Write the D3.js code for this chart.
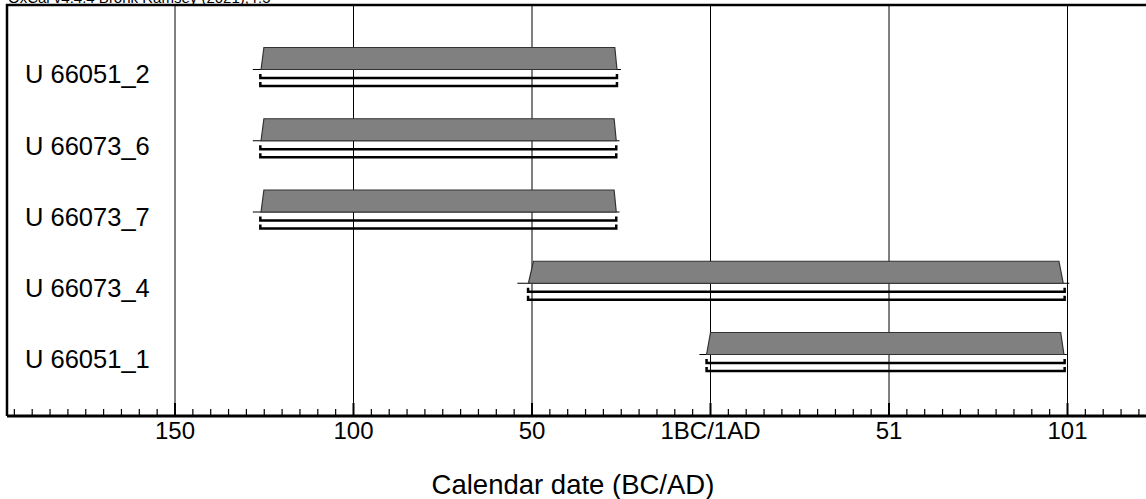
<!DOCTYPE html>
<html><head><meta charset="utf-8">
<script src="https://cdn.jsdelivr.net/npm/d3@7"></script>
<style>html,body{margin:0;padding:0;background:#fff;overflow:hidden}svg{display:block}</style>
</head><body>
<svg id="c" width="1146" height="499"></svg>
<script>
// ---- data ----
const header = "OxCal v4.4.4 Bronk Ramsey (2021); r:5";
const xTitle = "Calendar date (BC/AD)";
const samples = ["U 66051_2", "U 66073_6", "U 66073_7", "U 66073_4", "U 66051_1"];
// distribution outline, years (1BC/1AD = 0), paired with relative probability
const distProb = [0, 0, 1, 1, 0, 0];
const distYears = [
  [-128.2, -125.9, -125.1, -26.8, -26.2, -25.1],
  [-128.2, -125.9, -125.1, -27.0, -26.4, -25.5],
  [-128.2, -125.9, -125.1, -27.0, -26.4, -25.5],
  [-54.1, -51.0, -49.6, 97.6, 98.8, 100.5],
  [-3.1, -1.1, 0.0, 98.1, 99.0, 99.8]
];
const range68 = [[-126.1, -26.2], [-126.1, -26.4], [-126.1, -26.4], [-51.1, 99.2], [-1.1, 99.2]];
const range95 = [[-126.1, -26.2], [-126.1, -26.4], [-126.1, -26.4], [-51.1, 99.2], [-1.1, 99.2]];
const majorTicks = [-150, -100, -50, 0, 50, 100];
const majorLabels = ["150", "100", "50", "1BC/1AD", "51", "101"];
const minorTicks = d3.range(-195, 125, 5);

// ---- layout ----
const W = 1146, H = 499;
const frameLeft = 7, frameTop = 5, axisY = 416;
const font = "'Liberation Sans', Arial, Helvetica, sans-serif";
const svg = d3.select("#c");

const x = d3.scaleLinear().domain([-150, 100]).range([175, 1067.5]);
const rowBase = d3.scaleLinear().domain([0, 4]).range([69.5, 354.5]);
const pH = 22;

// header
svg.append("text").attr("x", 8).attr("y", 2.5).attr("font-family", font)
  .attr("font-size", 15).attr("fill", "#000").text(header);

// gridlines
svg.append("g").selectAll("line").data(majorTicks).join("line")
  .attr("x1", d => x(d)).attr("x2", d => x(d))
  .attr("y1", frameTop).attr("y2", axisY)
  .attr("stroke", "#000").attr("stroke-width", 1);

// distributions
const rows = svg.append("g").selectAll("g").data(samples).join("g");
rows.each(function(name, i) {
  const g = d3.select(this);
  const base = rowBase(i);
  const y = d3.scaleLinear().domain([0, 1]).range([base, base - pH]);
  const pts = distYears[i].map((yr, k) => [yr, distProb[k]]);
  g.append("line").attr("x1", x(pts[0][0])).attr("x2", x(pts[pts.length - 1][0]))
    .attr("y1", base).attr("y2", base).attr("stroke", "#000").attr("stroke-width", 1.2);
  const area = d3.area().x(d => x(d[0])).y0(base).y1(d => y(d[1]));
  g.append("path").attr("d", area(pts.slice(1, 5)))
    .attr("fill", "#808080").attr("stroke", "#333").attr("stroke-width", 1.2)
    .attr("stroke-linejoin", "miter");
  [[range68[i], 8.5], [range95[i], 16.5]].forEach(([r, off]) => {
    const yy = base + off;
    g.append("path")
      .attr("d", `M${x(r[0])},${yy - 4}V${yy}H${x(r[1])}V${yy - 4}`)
      .attr("fill", "none").attr("stroke", "#000").attr("stroke-width", 2.5);
  });
  g.append("text").attr("x", 25).attr("y", base + 5).attr("dy", "0.35em")
    .attr("font-family", font).attr("font-size", 25.5).attr("fill", "#000").text(name);
});

// axis
const axisG = svg.append("g");
axisG.selectAll("line.minor").data(minorTicks.filter(t => !majorTicks.includes(t))).join("line")
  .attr("class", "minor").attr("x1", d => x(d)).attr("x2", d => x(d))
  .attr("y1", axisY - 7).attr("y2", axisY).attr("stroke", "#000").attr("stroke-width", 1.2);
axisG.selectAll("line.major").data(majorTicks).join("line")
  .attr("class", "major").attr("x1", d => x(d)).attr("x2", d => x(d))
  .attr("y1", axisY - 13).attr("y2", axisY).attr("stroke", "#000").attr("stroke-width", 2);
axisG.selectAll("text").data(majorTicks).join("text")
  .attr("x", d => x(d)).attr("y", axisY + 23).attr("text-anchor", "middle")
  .attr("font-family", font).attr("font-size", 24).attr("fill", "#000")
  .text((d, i) => majorLabels[i]);

// frame
svg.append("path").attr("d", `M${frameLeft},${axisY}V${frameTop}H${W}`)
  .attr("fill", "none").attr("stroke", "#000").attr("stroke-width", 2.5);
svg.append("line").attr("x1", frameLeft).attr("x2", W).attr("y1", axisY).attr("y2", axisY)
  .attr("stroke", "#000").attr("stroke-width", 3);

// x title
svg.append("text").attr("x", 573).attr("y", 494).attr("text-anchor", "middle")
  .attr("font-family", font).attr("font-size", 27.5).attr("fill", "#000").text(xTitle);
</script>
</body></html>
